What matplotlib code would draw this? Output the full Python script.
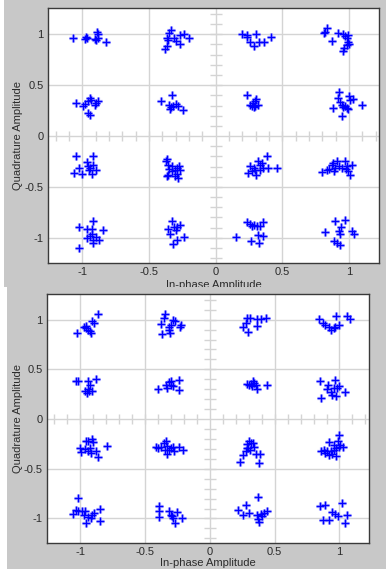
import matplotlib
matplotlib.use("Agg")
import matplotlib.pyplot as plt
import numpy as np
from matplotlib.patches import Rectangle

# ---------------- data ----------------
# Top panel: in-phase / quadrature samples
top_i = [
    # (-1, 1)
    -1.072, -0.972, -0.962, -0.892, -0.885, -0.905, -0.882, -0.897, -0.822, -0.977,
    # (-1/3, 1)
    -0.337, -0.347, -0.367, -0.357, -0.382, -0.362, -0.312, -0.297, -0.265, -0.240, -0.267, -0.202,
    # (1/3, 1)
    0.200, 0.232, 0.237, 0.305, 0.257, 0.287, 0.325, 0.365, 0.412,
    # (1, 1)
    0.833, 0.820, 0.815, 0.870, 0.920, 0.957, 0.970, 0.995, 0.983, 0.990, 0.983, 1.003, 0.965, 0.957,
    # (-1, 1/3)
    -1.047, -0.997, -0.977, -0.957, -0.942, -0.932, -0.955, -0.942, -0.897, -0.882, -0.905,
    # (-1/3, 1/3)
    -0.410, -0.330, -0.347, -0.337, -0.342, -0.317, -0.300, -0.285, -0.242,
    # (1/3, 1/3)
    0.232, 0.257, 0.277, 0.292, 0.302, 0.297, 0.315, 0.270, 0.287,
    # (1, 1/3)
    0.927, 0.920, 0.933, 0.945, 0.957, 1.003, 1.008, 1.028, 0.983, 0.995, 0.877, 0.945, 1.095, 0.970,
    # (-1, -1/3)
    -1.047, -1.062, -1.025, -1.005, -0.962, -0.955, -0.947, -0.922, -0.922, -0.927, -0.897, -0.942,
    # (-1/3, -1/3)
    -0.367, -0.375, -0.355, -0.347, -0.330, -0.355, -0.367, -0.325, -0.305, -0.275, -0.267,
    -0.287, -0.280, -0.305, -0.292,
    # (1/3, -1/3)
    0.382, 0.320, 0.332, 0.257, 0.245, 0.270, 0.295, 0.302, 0.332, 0.357, 0.395, 0.457, 0.287, 0.345,
    # (1, -1/3)
    0.795, 0.833, 0.852, 0.870, 0.882, 0.895, 0.890, 0.907, 0.927, 0.945, 0.970, 0.977, 0.983,
    0.995, 1.008, 1.020,
    # (-1, -1)
    -0.922, -1.025, -0.962, -0.930, -0.942, -0.962, -0.930, -0.922, -0.897, -0.877, -0.922, -0.842, -1.025,
    # (-1/3, -1)
    -0.330, -0.355, -0.342, -0.322, -0.300, -0.287, -0.267, -0.287, -0.235, -0.312,
    # (1/3, -1)
    0.232, 0.257, 0.270, 0.287, 0.312, 0.332, 0.357, 0.320, 0.357, 0.152, 0.265, 0.327,
    # (1, -1)
    0.895, 0.970, 0.937, 0.927, 0.933, 0.822, 1.020, 1.037, 0.887, 0.907, 0.933,
]
top_q = [
    0.967, 0.977, 0.967, 1.020, 1.000, 0.957, 0.967, 0.944, 0.920, 0.957,
    1.042, 1.010, 0.967, 0.944, 0.856, 0.886, 0.964, 0.938, 0.990, 1.007, 0.905, 0.961,
    1.007, 0.993, 0.974, 1.003, 0.922, 0.889, 0.925, 0.922, 0.971,
    1.059, 1.026, 1.010, 0.937, 1.010, 1.003, 0.986, 0.993, 0.960, 0.928, 0.895, 0.900, 0.863, 0.840,
    0.324, 0.291, 0.314, 0.343, 0.373, 0.353, 0.225, 0.206, 0.320, 0.346, 0.307,
    0.346, 0.405, 0.307, 0.284, 0.265, 0.297, 0.314, 0.297, 0.258,
    0.405, 0.304, 0.324, 0.343, 0.366, 0.297, 0.301, 0.297, 0.284,
    0.431, 0.372, 0.339, 0.307, 0.290, 0.398, 0.356, 0.366, 0.274, 0.268, 0.280, 0.199, 0.307, 0.300,
    -0.199, -0.363, -0.314, -0.369, -0.258, -0.297, -0.337, -0.199, -0.288, -0.369, -0.337, -0.314,
    -0.225, -0.248, -0.288, -0.320, -0.297, -0.379, -0.389, -0.346, -0.330, -0.297, -0.330,
    -0.369, -0.415, -0.395, -0.314,
    -0.193, -0.249, -0.281, -0.298, -0.363, -0.347, -0.337, -0.379, -0.330, -0.314, -0.314, -0.314, -0.314, -0.265,
    -0.357, -0.330, -0.324, -0.281, -0.265, -0.314, -0.347, -0.249, -0.298, -0.314, -0.249, -0.324, -0.298,
    -0.347, -0.379, -0.281,
    -0.830, -0.895, -0.912, -0.912, -0.984, -1.000, -0.967, -1.023, -0.990, -1.026, -1.049, -0.918, -1.098,
    -0.837, -0.912, -0.967, -1.056, -0.925, -0.895, -0.869, -1.023, -0.990, -0.895,
    -0.847, -0.860, -0.879, -0.870, -0.886, -0.879, -0.847, -0.968, -0.984, -0.994, -1.033, -1.049,
    -0.830, -0.820, -0.896, -0.935, -0.958, -0.938, -0.935, -0.961, -1.033, -1.049, -1.072,
]

# Bottom panel: in-phase / quadrature samples
bottom_i = [
    # (-1, 1)
    -1.028, -0.972, -0.954, -0.941, -0.925, -0.915, -0.907, -0.895, -0.861, -0.959,
    # (-1/3, 1)
    -0.350, -0.355, -0.380, -0.368, -0.316, -0.308, -0.316, -0.283, -0.267, -0.303, -0.234, -0.226,
    # (1/3, 1)
    0.257, 0.275, 0.288, 0.308, 0.293, 0.365, 0.391, 0.434, 0.360,
    # (1, 1)
    0.841, 0.871, 0.892, 0.918, 0.938, 0.956, 0.969, 0.995, 0.977, 1.059, 1.085,
    # (-1, 1/3)
    -1.036, -1.018, -0.938, -0.925, -0.933, -0.967, -0.951, -0.907, -0.882, -0.941,
    # (-1/3, 1/3)
    -0.401, -0.337, -0.329, -0.316, -0.298, -0.298, -0.283, -0.239, -0.239,
    # (1/3, 1/3)
    0.283, 0.301, 0.319, 0.334, 0.344, 0.352, 0.360, 0.326, 0.437,
    # (1, 1/3)
    0.848, 0.859, 0.900, 0.913, 0.931, 0.943, 0.956, 0.982, 0.969, 0.995, 0.977, 1.039,
    # (-1, -1/3)
    -1.003, -0.992, -0.967, -0.959, -0.941, -0.925, -0.907, -0.900, -0.882, -0.864, -0.792, -0.941, -0.915,
    # (-1/3, -1/3)
    -0.419, -0.398, -0.380, -0.355, -0.342, -0.329, -0.316, -0.303, -0.288, -0.278, -0.329, -0.350,
    -0.239, -0.206,
    # (1/3, -1/3)
    0.231, 0.257, 0.275, 0.288, 0.301, 0.314, 0.293, 0.308, 0.283, 0.344, 0.352, 0.378, 0.386, 0.329,
    # (1, -1/3)
    0.859, 0.884, 0.905, 0.923, 0.931, 0.943, 0.956, 0.956, 0.977, 0.995, 1.008, 1.028, 1.000,
    0.990, 0.977, 0.918, 0.892,
    # (-1, -1)
    -1.018, -1.036, -1.054, -1.018, -0.985, -0.972, -0.959, -0.941, -0.907, -0.895, -0.920, -0.848,
    -0.848, -0.967,
    # (-1/3, -1)
    -0.393, -0.393, -0.393, -0.316, -0.298, -0.283, -0.272, -0.252, -0.213, -0.290,
    # (1/3, -1)
    0.216, 0.275, 0.257, 0.301, 0.370, 0.365, 0.370, 0.378, 0.391, 0.416, 0.437, 0.404,
    # (1, -1)
    0.848, 0.892, 0.874, 0.918, 0.943, 0.969, 0.987, 1.021, 1.059, 1.039,
]
bottom_q = [
    0.864, 0.931, 0.915, 0.898, 0.881, 0.861, 0.982, 0.965, 1.055, 0.941,
    1.055, 1.015, 0.955, 0.854, 0.931, 0.864, 0.898, 0.998, 0.988, 0.948, 0.931, 0.948,
    0.931, 0.965, 1.015, 1.015, 0.874, 1.005, 1.008, 1.018, 0.938,
    1.005, 0.965, 0.948, 0.931, 0.898, 0.915, 0.928, 0.948, 1.032, 1.032, 1.005,
    0.379, 0.385, 0.379, 0.345, 0.278, 0.285, 0.261, 0.278, 0.402, 0.305,
    0.302, 0.345, 0.312, 0.369, 0.379, 0.338, 0.328, 0.389, 0.291,
    0.355, 0.345, 0.355, 0.379, 0.362, 0.338, 0.305, 0.328, 0.345,
    0.379, 0.211, 0.305, 0.338, 0.271, 0.238, 0.312, 0.312, 0.395, 0.328, 0.228, 0.271,
    -0.291, -0.332, -0.298, -0.224, -0.218, -0.291, -0.198, -0.231, -0.325, -0.379, -0.271, -0.325, -0.342,
    -0.285, -0.291, -0.278, -0.241, -0.224, -0.275, -0.308, -0.291, -0.285, -0.318, -0.348, -0.315,
    -0.285, -0.312,
    -0.432, -0.365, -0.325, -0.251, -0.224, -0.241, -0.291, -0.315, -0.291, -0.285, -0.352, -0.442, -0.352, -0.245,
    -0.318, -0.308, -0.325, -0.231, -0.325, -0.348, -0.308, -0.258, -0.291, -0.285, -0.258, -0.285, -0.157,
    -0.218, -0.375, -0.365, -0.342,
    -0.794, -0.911, -0.955, -0.928, -0.921, -0.961, -1.045, -0.988, -0.968, -0.948, -0.995, -0.901,
    -1.022, -0.928,
    -0.878, -0.921, -0.985, -0.921, -0.968, -0.995, -1.045, -0.938, -0.995, -0.975,
    -0.911, -0.868, -0.961, -0.945, -0.784, -0.961, -1.002, -1.035, -0.955, -0.941, -0.928, -0.978,
    -0.878, -0.861, -1.018, -1.018, -0.935, -0.955, -0.978, -0.844, -0.968, -1.045,
]

tick_values = [-1, -0.5, 0, 0.5, 1]
tick_labels = ['-1', '-0.5', '0', '0.5', '1']
x_label = 'In-phase Amplitude'
y_label = 'Quadrature Amplitude'

# ---------------- figure ----------------
W, H = 386, 569
fig = plt.figure(figsize=(W / 100, H / 100), dpi=100)
fig.patch.set_facecolor('white')

GRAY = '#c8c8c8'
def fig_rect(x0, y0, x1, y1, z):
    r = Rectangle((x0 / W, 1 - y1 / H), (x1 - x0) / W, (y1 - y0) / H,
                  transform=fig.transFigure, facecolor=GRAY, edgecolor='none', zorder=z)
    fig.patches.append(r)

fig_rect(4, 0, 386, 287, -5)
fig_rect(7, 287, 386, 569, 0.5)

def make_axes(x0, y0, x1, y1, z):
    ax = fig.add_axes([x0 / W, 1 - y1 / H, (x1 - x0) / W, (y1 - y0) / H])
    ax.set_zorder(z)
    return ax, (x0, y0, x1, y1)

ax_top, box_top = make_axes(48.3, 8.3, 379.3, 263.3, 0)
ax_bot, box_bot = make_axes(47.3, 294.3, 369.0, 543.3, 1)

TXT = '#2b2b2b'
for (ax, box), xi, yq, xlab_y in (((ax_top, box_top), top_i, top_q, 284.5),
                                  ((ax_bot, box_bot), bottom_i, bottom_q, 562.5)):
    x0, y0, x1, y1 = box
    ax.set_facecolor('white')
    ax.set_xlim(-1.255, 1.228)
    ax.set_ylim(-1.25, 1.255)
    ax.set_xticks(tick_values)
    ax.set_xticklabels(tick_labels)
    ax.set_yticks(tick_values)
    ax.set_yticklabels(tick_labels)
    ax.tick_params(axis='x', length=0, labelsize=8, colors=TXT, pad=3)
    ax.tick_params(axis='y', length=0, labelsize=8, colors=TXT, pad=3.5)
    for lab in ax.get_xticklabels() + ax.get_yticklabels():
        lab.set_family('Liberation Sans')
    ax.grid(True, color='#d4d4d4', linewidth=1.0)
    ax.set_axisbelow(True)
    for s in ax.spines.values():
        s.set_color('#3a3a3a')
        s.set_linewidth(1.0)
    ax.set_xlabel(x_label, fontsize=8, color=TXT, family='Liberation Sans', va='center')
    ax.xaxis.set_label_coords(0.5, (y1 - xlab_y) / (y1 - y0))
    ax.set_ylabel(y_label, fontsize=8, color=TXT, family='Liberation Sans', va='center')
    ax.yaxis.set_label_coords((18 - x0) / (x1 - x0), 0.5)

    # centre cross tick marks every 0.1
    minor = np.round(np.arange(-1.2, 1.21, 0.1), 2)
    minor = minor[np.abs(minor) > 1e-9]
    ax.plot(minor, np.zeros_like(minor), linestyle='none', marker='|',
            markersize=7, markeredgewidth=1.0, color='#d4d4d4', zorder=1)
    ax.plot(np.zeros_like(minor), minor, linestyle='none', marker='_',
            markersize=8, markeredgewidth=1.0, color='#d4d4d4', zorder=1)

    # samples: soft halo + crisp blue plus
    ax.plot(xi, yq, linestyle='none', marker='+', markersize=6.0,
            markeredgewidth=2.3, color='#b0b0ff', zorder=3)
    ax.plot(xi, yq, linestyle='none', marker='+', markersize=5.2,
            markeredgewidth=1.0, color='#0000ff', zorder=4)

fig.savefig('out.png', dpi=100, facecolor=fig.get_facecolor())
